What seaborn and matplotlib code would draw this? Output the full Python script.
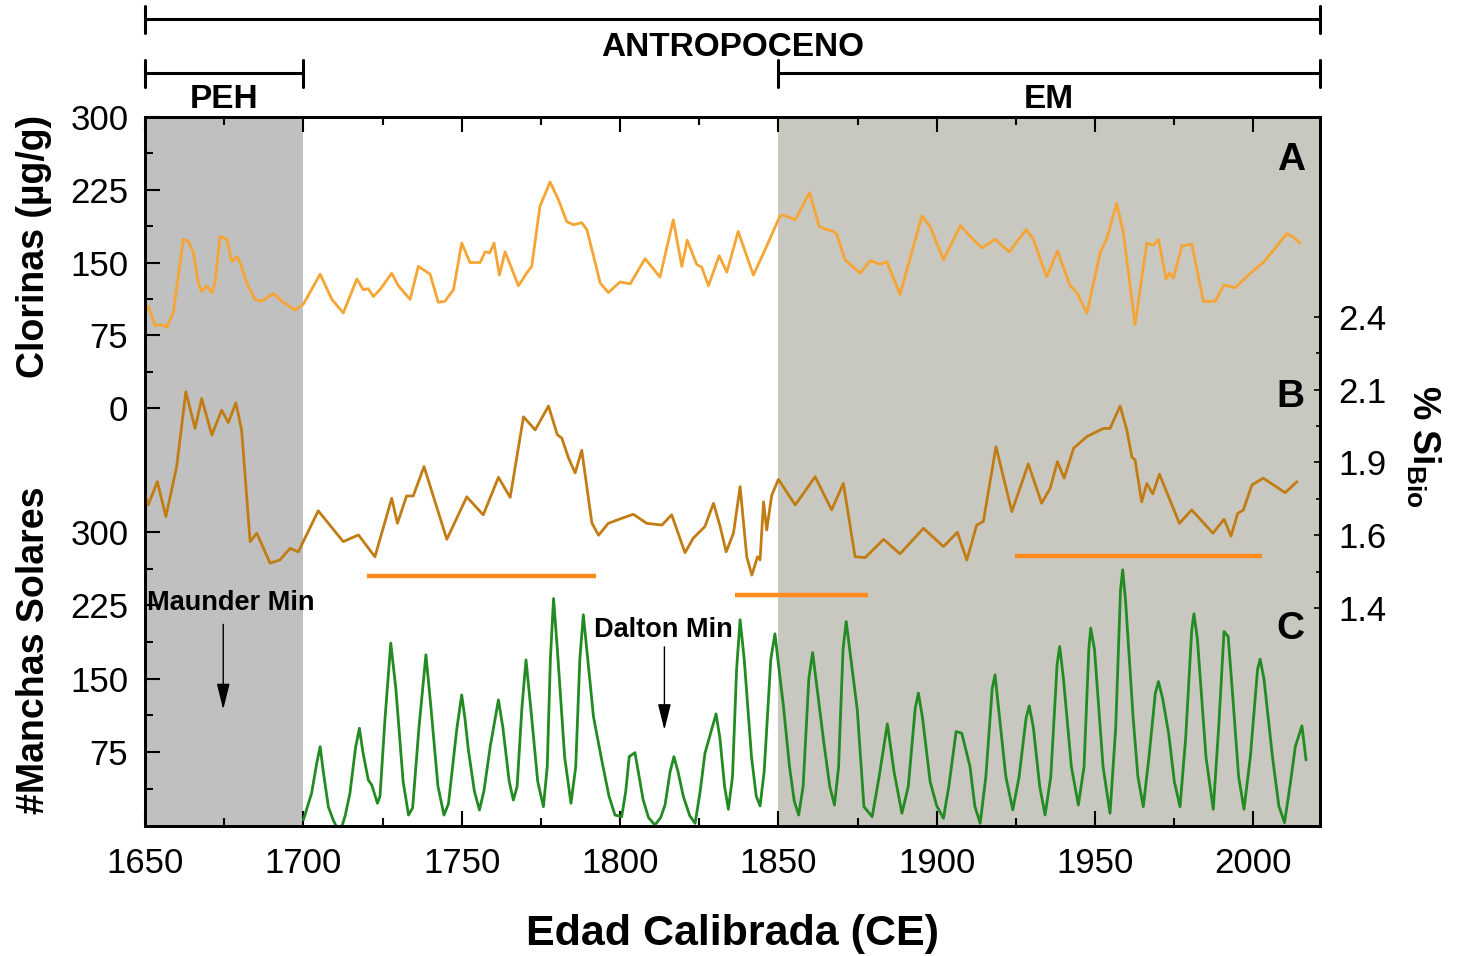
import numpy as np
import matplotlib
matplotlib.use("Agg")
import matplotlib.pyplot as plt
import seaborn as sns
from matplotlib.ticker import FixedLocator, FormatStrFormatter

sns.set_style("ticks")
plt.rcParams['font.family'] = ['Liberation Sans', 'DejaVu Sans']
plt.rcParams['mathtext.fontset'] = 'custom'
plt.rcParams['mathtext.bf'] = 'Liberation Sans:bold'
plt.rcParams['mathtext.rm'] = 'Liberation Sans'
plt.rcParams['mathtext.it'] = 'Liberation Sans:italic'
for key in ('text.color', 'axes.labelcolor', 'xtick.color', 'ytick.color', 'axes.edgecolor'):
    plt.rcParams[key] = 'black'

# (A) chlorophyll record: year, µg/g
clorinas = np.array([
    [1650, 98], [1651, 105], [1653.2, 85], [1655.3, 86], [1656.8, 83], [1658.9, 98],
    [1662.1, 174], [1663.7, 172], [1665.3, 160], [1666.8, 129], [1667.9, 120], [1669.5, 126],
    [1671.1, 119], [1672.1, 129], [1673.7, 177], [1675.8, 174], [1677.4, 151], [1679, 156],
    [1680, 150], [1682.1, 129], [1684.7, 112], [1686.8, 110], [1690.5, 118], [1693.7, 109],
    [1697.4, 101], [1700, 107], [1705.3, 138], [1709, 112], [1712.6, 98], [1716.9, 133],
    [1718.9, 122], [1720.5, 123], [1722.1, 115], [1724.2, 122], [1727.9, 139], [1730, 126],
    [1733.7, 112], [1736.3, 146], [1740, 138], [1742.6, 109], [1744.7, 110], [1747.4, 122],
    [1750, 170], [1752.6, 150], [1755.8, 150], [1757.4, 161], [1758.9, 160], [1760.2, 170],
    [1761.9, 137], [1763.7, 161], [1767.9, 126], [1770.5, 139], [1772.1, 146], [1774.7, 208],
    [1777.9, 233], [1780.5, 215], [1783.2, 192], [1785.3, 189], [1787.9, 191], [1789.5, 184],
    [1791.6, 157], [1793.7, 129], [1796.3, 119], [1800, 130], [1803.2, 128], [1807.9, 154],
    [1812.6, 135], [1816.8, 194], [1819.5, 146], [1821.2, 173], [1824.2, 148], [1825.8, 145],
    [1827.9, 126], [1831.3, 157], [1833.7, 140], [1837.3, 182], [1842.1, 137], [1846.3, 167],
    [1850.5, 198], [1851.6, 199], [1855.3, 194], [1859.8, 222], [1862.9, 187], [1865.2, 184],
    [1867.4, 182], [1868.4, 179], [1871, 153], [1875.8, 139], [1879, 152], [1882.1, 148],
    [1884.2, 151], [1888.4, 117], [1895.3, 198], [1897.9, 187], [1902.1, 153], [1907.5, 188],
    [1910.5, 177], [1914.2, 165], [1918.4, 174], [1922.9, 161], [1928.2, 184], [1930.5, 174],
    [1934.7, 135], [1938.1, 162], [1942.1, 126], [1944.2, 119], [1947.4, 98], [1951.6, 160],
    [1953.7, 175], [1956.8, 211], [1958.9, 181], [1962.6, 86], [1966.3, 170], [1968.4, 168],
    [1970, 174], [1972.4, 133], [1973.5, 139], [1974.7, 134], [1977.4, 167], [1980.5, 169],
    [1984.2, 110], [1987.9, 110], [1990.7, 127], [1994.2, 124], [1999, 139], [2003.1, 150],
    [2007.4, 167], [2010.5, 180], [2012.6, 176], [2014.7, 170],
])

# (B) biogenic silica: year, %
si_bio = np.array([
    [1650, 1.79], [1651, 1.754], [1653.9, 1.834], [1656.6, 1.714], [1660, 1.886], [1662.9, 2.143],
    [1665.8, 2.017], [1667.9, 2.12], [1671.1, 1.994], [1674.2, 2.08], [1676.3, 2.037], [1678.7, 2.105],
    [1680.5, 2.012], [1683.2, 1.628], [1685.3, 1.657], [1689.5, 1.554], [1692.6, 1.565], [1695.8, 1.605],
    [1698.4, 1.593], [1704.7, 1.734], [1712.6, 1.628], [1717.4, 1.651], [1722.6, 1.576], [1727.9, 1.777],
    [1729.7, 1.691], [1732.6, 1.785], [1734.7, 1.785], [1738.1, 1.886], [1745.3, 1.636], [1751.6, 1.782],
    [1756.8, 1.72], [1761.6, 1.849], [1765.3, 1.78], [1769.5, 2.057], [1773.2, 2.012], [1777.4, 2.094],
    [1780.2, 1.995], [1781.6, 1.984], [1783.7, 1.916], [1785.8, 1.864], [1787.9, 1.942], [1791.1, 1.692],
    [1793.2, 1.65], [1796.3, 1.691], [1800.5, 1.708], [1804.2, 1.722], [1808.4, 1.691], [1813.2, 1.685],
    [1816.3, 1.72], [1820.5, 1.59], [1823.1, 1.64], [1826.8, 1.68], [1829.5, 1.76], [1831.6, 1.68],
    [1833.5, 1.593], [1835.8, 1.657], [1837.9, 1.817], [1840, 1.576], [1841.6, 1.513], [1843.4, 1.576],
    [1844.2, 1.565], [1845.3, 1.765], [1846.3, 1.668], [1847.9, 1.788], [1850, 1.842], [1855.3, 1.754],
    [1861.6, 1.851], [1866.8, 1.737], [1870.5, 1.828], [1874.2, 1.576], [1877.4, 1.573], [1883.2, 1.636],
    [1888.4, 1.586], [1895.8, 1.674], [1902.1, 1.611], [1906.5, 1.66], [1909.5, 1.565], [1912.6, 1.685],
    [1914.7, 1.697], [1918.7, 1.954], [1923.7, 1.731], [1928.9, 1.895], [1933.1, 1.76], [1935.8, 1.811],
    [1938.1, 1.903], [1940.2, 1.846], [1943.2, 1.949], [1947.4, 1.989], [1952.6, 2.017], [1954.7, 2.017],
    [1957.9, 2.094], [1960, 2.012], [1961.6, 1.918], [1962.6, 1.909], [1964.7, 1.765], [1966.3, 1.828],
    [1968.2, 1.792], [1970.3, 1.86], [1976.6, 1.691], [1980.5, 1.737], [1987.2, 1.657], [1990.7, 1.705],
    [1992.9, 1.647], [1995, 1.725], [1996.8, 1.737], [1999.5, 1.823], [2003.1, 1.846], [2010, 1.796],
    [2013.7, 1.834],
])

# (C) sunspot number: year, count
manchas = np.array([
    [1700, 5.6], [1702.6, 33], [1704.3, 65], [1705.3, 80.6], [1706.3, 55], [1707.9, 19],
    [1709.5, 5], [1711.5, -8], [1713.2, 10], [1714.7, 33], [1716.5, 80], [1717.7, 99.4],
    [1718.8, 75], [1720.5, 46.6], [1721.6, 41.4], [1723.4, 22.7], [1724.2, 30], [1725.8, 110],
    [1727.6, 186.4], [1729.2, 140], [1731.5, 45], [1733.2, 10.7], [1734.5, 18], [1736.5, 100],
    [1738.7, 174.5], [1740.3, 120], [1742.5, 40], [1744.4, 10.7], [1745.8, 22], [1748.5, 100],
    [1750, 133.5], [1751, 110], [1752.1, 77.3], [1754, 35], [1755.6, 15.9], [1757, 35],
    [1759, 80.6], [1761.6, 128.4], [1763, 100], [1765, 45], [1766.3, 26], [1767.5, 40],
    [1769, 120], [1770.3, 169.3], [1771.8, 120], [1774, 45], [1775.8, 19.2], [1777, 60],
    [1778, 170], [1779, 232], [1780.2, 180], [1782.5, 70], [1784.5, 22.7], [1786, 60],
    [1787.3, 170], [1788.4, 215.4], [1789.8, 170], [1791.6, 111.3], [1794.2, 67], [1796.5, 30],
    [1798.4, 10.7], [1800.5, 9], [1801.8, 35], [1802.9, 70.4], [1804.7, 74.5], [1806, 50],
    [1807.3, 26], [1809, 8], [1811, 0.5], [1812.8, 8], [1814.2, 21], [1815.8, 55],
    [1817, 70.4], [1818.3, 55], [1820, 29.5], [1822, 10], [1823.7, 2.2], [1825.3, 35],
    [1826.8, 73.9], [1830.3, 114], [1831.5, 90], [1833, 40], [1834.2, 16.6], [1835.5, 50],
    [1836.8, 160], [1837.9, 210.3], [1839.2, 170], [1841.5, 70], [1843, 30], [1844.2, 20],
    [1845.5, 55], [1847.6, 170], [1848.9, 196], [1850, 165], [1851.6, 121.6], [1853.5, 60],
    [1855, 25], [1856.4, 10.7], [1857.8, 40], [1859.6, 150], [1860.8, 176.8], [1862.2, 140],
    [1864.3, 85.7], [1866.2, 40], [1867.7, 21], [1869, 60], [1870.4, 180], [1871.4, 208.5],
    [1872.5, 180], [1874.9, 118.2], [1877, 19.2], [1879.6, 9], [1881.8, 50], [1884.4, 103.9],
    [1886.5, 55], [1889, 12.5], [1891, 40], [1893.2, 120], [1894.2, 135.3], [1895.5, 110],
    [1897.9, 44.8], [1900, 20], [1902.1, 7.4], [1903.8, 40], [1906.1, 96], [1907.9, 94.3],
    [1910.5, 60], [1912, 20], [1913.7, 2.2], [1915.5, 50], [1917.5, 140], [1918.4, 154],
    [1919.5, 120], [1921.8, 50], [1924, 15.9], [1926, 50], [1928.2, 110], [1929.2, 122.3],
    [1930.5, 100], [1932.5, 40], [1934.2, 10.7], [1936, 50], [1938, 165], [1938.8, 183],
    [1940, 150], [1942.5, 60], [1944.7, 21], [1946.5, 60], [1948, 180], [1948.6, 201.8],
    [1949.8, 180], [1952.5, 60], [1954.7, 12.5], [1956.5, 100], [1958, 240], [1958.7, 261.4],
    [1959.6, 230], [1962, 110], [1963.5, 50], [1965.2, 19.2], [1967, 70], [1969, 135],
    [1970, 147.1], [1971.3, 130], [1973.2, 94.3], [1975, 45], [1976.8, 19.2], [1978.6, 90],
    [1980.5, 200], [1981.2, 216.4], [1982.3, 190], [1985, 70], [1987.3, 16.6], [1989, 100],
    [1990.7, 198.3], [1992, 193.2], [1993.5, 130], [1995.3, 50], [1997, 16.6], [1999, 70],
    [2001.3, 160], [2002.1, 170], [2003.3, 150], [2006, 70], [2008, 20], [2009.8, 2.9],
    [2011.5, 40], [2013.2, 80.6], [2015.3, 101.8], [2016.6, 67],
])

# horizontal markers under panel B: start, end, level (% Si)
marker_start = [1720, 1836.3, 1924.7]
marker_end = [1792.4, 1878.3, 2002.7]
marker_level = [1.51, 1.445, 1.579]

# periods shown above the plot
periods = ["ANTROPOCENO", "PEH", "EM"]
period_start = [1650, 1650, 1850]
period_end = [2021, 1700, 2021]

x_ticks = [1650, 1700, 1750, 1800, 1850, 1900, 1950, 2000]
chl_ticks = [0, 75, 150, 225, 300]
sun_ticks = [75, 150, 225, 300]
si_ticks = [1.4, 1.65, 1.9, 2.15, 2.4]

C_CHL = '#F6A534'
C_SI = '#C27C14'
C_SUN = '#228B22'
C_MARK = '#FF8A1C'

W, H = 1461, 956
fig = plt.figure(figsize=(W / 100, H / 100), dpi=100)
ax = fig.add_axes([145 / W, 1 - 826 / H, 1175 / W, 709 / H])
ax.set_xlim(1650, 2021)

ax.axvspan(1650, 1700, color='#C0C0C0', lw=0, zorder=0)
ax.axvspan(1850, 2021, color='#C8C8C0', lw=0, zorder=0)

TICKFS = 25
SP_LW = 1.8
LINE_KW = dict(lw=2.0, estimator=None, sort=False)

# --- panel A: chlorophyll (left, upper scale)
sns.lineplot(x=clorinas[:, 0], y=clorinas[:, 1], ax=ax, color=C_CHL, **LINE_KW)
ax.set_ylim(-430.9, 300)
ax.yaxis.set_major_locator(FixedLocator(chl_ticks))
ax.yaxis.set_minor_locator(FixedLocator([37.5, 112.5, 187.5, 262.5]))
ax.set_ylabel('Clorinas (µg/g)', fontsize=27, fontweight='bold')
ax.yaxis.set_label_coords(-0.079, 0.817)

ax.xaxis.set_major_locator(FixedLocator(x_ticks))
ax.xaxis.set_minor_locator(FixedLocator([1675, 1725, 1775, 1825, 1875, 1925, 1975]))
ax.tick_params(axis='x', which='both', direction='in', top=True, bottom=True,
               labelsize=TICKFS, pad=15, width=1.5)
ax.tick_params(axis='x', which='major', length=11)
ax.tick_params(axis='x', which='minor', length=6)
ax.tick_params(axis='y', which='both', direction='in', left=True, right=False,
               labelsize=TICKFS, pad=12, width=1.5)
ax.tick_params(axis='y', which='major', length=11)
ax.tick_params(axis='y', which='minor', length=6)
ax.set_xlabel('Edad Calibrada (CE)', fontsize=31, fontweight='bold')
ax.xaxis.set_label_coords(0.5, -0.124)

# --- panel C: sunspots (left, lower scale)
ax_s = ax.twinx()
sns.lineplot(x=manchas[:, 0], y=manchas[:, 1], ax=ax_s, color=C_SUN, **LINE_KW)
ax_s.set_ylim(-0.51, 724.2)
ax_s.yaxis.tick_left()
ax_s.yaxis.set_label_position('left')
ax_s.yaxis.set_major_locator(FixedLocator(sun_ticks))
ax_s.yaxis.set_minor_locator(FixedLocator([37.5, 112.5, 187.5, 262.5]))
ax_s.tick_params(axis='y', which='both', direction='in', labelsize=TICKFS, pad=12, width=1.5)
ax_s.tick_params(axis='y', which='major', length=11)
ax_s.tick_params(axis='y', which='minor', length=6)
ax_s.set_ylabel('#Manchas Solares', fontsize=27, fontweight='bold')
ax_s.yaxis.set_label_coords(-0.079, 0.248)

# --- panel B: biogenic silica (right scale)
ax_r = ax.twinx()
sns.lineplot(x=si_bio[:, 0], y=si_bio[:, 1], ax=ax_r, color=C_SI, **LINE_KW)
ax_r.hlines(marker_level, marker_start, marker_end, color=C_MARK, lw=3.2)
ax_r.set_ylim(0.651, 3.087)
ax_r.yaxis.set_major_locator(FixedLocator(si_ticks))
ax_r.yaxis.set_minor_locator(FixedLocator([1.525, 1.775, 2.025, 2.275]))
ax_r.yaxis.set_major_formatter(FormatStrFormatter('%.1f'))
ax_r.tick_params(axis='y', which='both', direction='in', labelsize=TICKFS, pad=13, width=1.2)
ax_r.tick_params(axis='y', which='major', length=4)
ax_r.tick_params(axis='y', which='minor', length=3)
ax_r.set_ylabel('')
ax_r.text(1.0877, 0.536, r'$\mathbf{\%\ Si_{Bio}}$', transform=ax_r.transAxes,
          rotation=270, ha='center', va='center', fontsize=27)

for a in (ax, ax_s, ax_r):
    a.set_xlim(1650, 2021)
    for sp in a.spines.values():
        sp.set_linewidth(SP_LW)
        sp.set_color('black')
    for ln in a.get_lines():
        ln.set_solid_joinstyle('round')

# panel letters
for letter, yy in zip(['A', 'B', 'C'], [0.939, 0.605, 0.278]):
    ax.text(0.975, yy, letter, transform=ax.transAxes, fontsize=28, fontweight='bold',
            ha='center', va='center')

# solar minima
arrow_kw = dict(arrowstyle='-|>,head_length=0.8,head_width=0.2', color='black',
                lw=1.0, mutation_scale=20, shrinkA=0, shrinkB=0)
ax_s.text(1650.6, 227.7, 'Maunder Min', fontsize=19.5, fontweight='bold', ha='left', va='center')
ax_s.annotate('', xy=(1674.7, 118.6), xytext=(1674.7, 205.6), arrowprops=arrow_kw)
ax_s.text(1813.8, 200, 'Dalton Min', fontsize=19.5, fontweight='bold', ha='center', va='center')
ax_s.annotate('', xy=(1814, 97.7), xytext=(1814, 182.6), arrowprops=arrow_kw)

# period brackets above the axes
trans = ax.get_xaxis_transform()
bar_y = [1.138, 1.062, 1.062]
text_y = [1.098, 1.025, 1.025]
cap = 0.019
for name, x0, x1, by, ty in zip(periods, period_start, period_end, bar_y, text_y):
    ax.plot([x0, x1], [by, by], color='black', lw=2.2, transform=trans, clip_on=False,
            solid_capstyle='butt')
    for xe in (x0, x1):
        ax.plot([xe, xe], [by - cap, by + cap], color='black', lw=2.2, transform=trans,
                clip_on=False)
    ax.text((x0 + x1) / 2, ty, name, transform=trans, fontsize=24, fontweight='bold',
            ha='center', va='center')

fig.savefig('out.png', dpi=100)
